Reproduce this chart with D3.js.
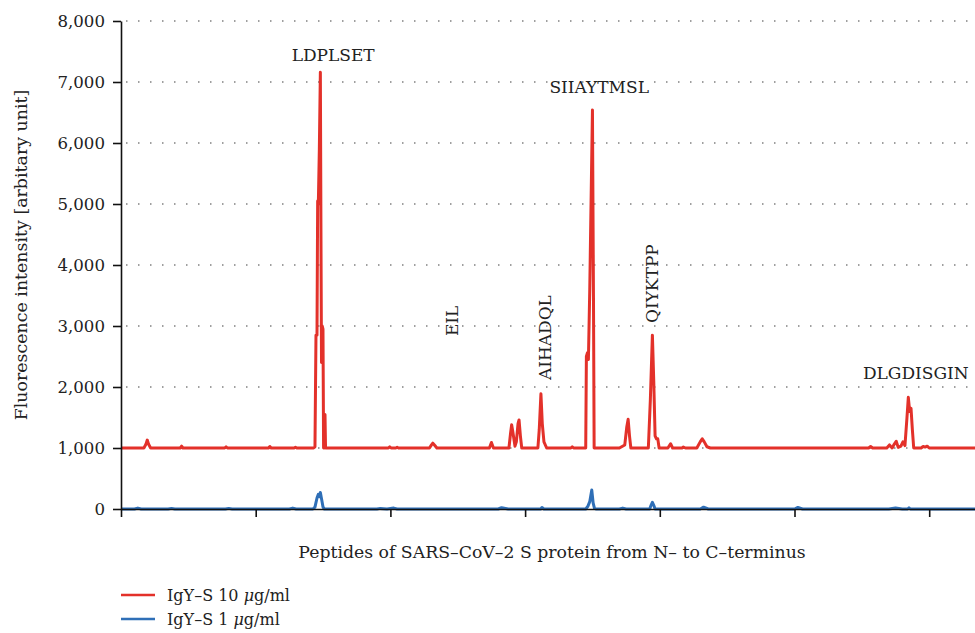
<!DOCTYPE html>
<html>
<head>
<meta charset="utf-8">
<script src="https://cdn.jsdelivr.net/npm/d3@7"></script>
<style>
  body { margin: 0; background: #fff; }
</style>
</head>
<body>
<div id="chart"></div>
<script>
// peptide position along the S protein, intensity
const red10 = [
  [0,1000],[34,1000],[37,1060],[39,1130],[41,1060],[44,1000],
  [88,1000],[90,1030],[92,1000],
  [154,1000],[156,1020],[158,1000],
  [219,1000],[221,1025],[223,1000],
  [257,1000],[259,1012],[261,1000],
  [286,1000],[288,1020],[289.5,2850],[291,2850],[292,5050],[293,5000],[294.5,5900],[296,7160],
  [297,4200],[297.7,2400],[298.8,3000],[299.9,2950],[300.8,1000],[302,1000],[302.9,1550],[303.7,1000],
  [397,1000],[399,1020],[401,1000],[408,1000],[410,1012],[412,1000],
  [458,1000],[461,1050],[463,1080],[466,1040],[469,1000],
  [547,1000],[550,1090],[553,1000],
  [576,1000],[578.5,1250],[580,1380],[582,1250],[585,1030],[587,1100],[589.5,1400],[591,1460],[593,1200],[595,1000],
  [619,1000],[621,1300],[623.5,1890],[625.5,1400],[628,1100],[632,1000],
  [668,1000],[670,1020],[672,1000],
  [690,1000],[691,2500],[692.5,2560],[694,2450],[696,3600],[700,6540],[701.5,3500],[702.5,1000],
  [740,1000],[748,1050],[751,1350],[753,1470],[755,1200],[757,1000],
  [783,1000],[786,1800],[789,2850],[791,2100],[793,1200],[795,1150],[797,1150],[799,1000],
  [812,1000],[816,1070],[819,1000],
  [833,1000],[835,1015],[838,1000],
  [855,1000],[860,1100],[863,1150],[866,1100],[870,1020],[875,1000],
  [1110,1000],[1113,1025],[1116,1000],
  [1137,1000],[1141,1050],[1145,1000],[1148,1060],[1151,1110],[1154,1010],[1158,1030],[1161,1100],[1164,1040],
  [1167,1500],[1169,1830],[1171,1600],[1173,1650],[1175,1300],[1177,1000],
  [1188,1000],[1191,1025],[1194,1015],[1197,1030],[1200,1000],
  [1268,1000]
];

const blue1 = [
  [0,0],[20,0],[25,15],[30,0],[70,0],[75,10],[80,0],[155,0],[160,10],[165,0],
  [250,0],[255,15],[260,0],[285,0],[288,30],[291,180],[293,240],[295,200],[296,270],[298,150],[300,30],[302,0],
  [380,0],[385,10],[395,0],[405,15],[410,0],[560,0],[565,20],[575,0],[623,0],[625,25],[628,0],
  [690,0],[693,40],[696,120],[699,310],[701,100],[703,10],[705,0],
  [740,0],[745,15],[750,0],[785,0],[787,60],[789,110],[791,60],[793,0],
  [860,0],[865,30],[872,0],[1000,0],[1005,25],[1012,0],
  [1140,0],[1150,15],[1160,0],[1168,0],[1170,20],[1172,0],[1268,0]
];

const yTicks = [0, 1000, 2000, 3000, 4000, 5000, 6000, 7000, 8000];
const xTicks = [0, 200, 400, 600, 800, 1000, 1200];

// peptide labels: text, anchor position, anchor intensity, rotated?
const peptides = ["LDPLSET", "EIL", "AIHADQL", "SIIAYTMSL", "QIYKTPP", "DLGDISGIN"];
const peptidePos = [315, 500, 638, 710, 797, 1180];
const peptideVal = [7343, 2835, 2114, 6818, 3049, 2131];
const peptideRot = [false, true, true, false, true, false];

const seriesNames = ["IgY\u2013S 10", "IgY\u2013S 1"];
const seriesColors = ["#e3312a", "#2f6fb7"];

const SERIF = "'DejaVu Serif', serif";

const W = 975, H = 633;
const svg = d3.select("#chart").append("svg")
  .attr("width", W)
  .attr("height", H)
  .attr("font-family", SERIF);

const x = d3.scaleLinear().domain([0, 1268]).range([121, 975]);
const y = d3.scaleLinear().domain([0, 8000]).range([509, 21]);

// dotted grid
svg.append("g")
  .selectAll("line")
  .data(yTicks.filter(d => d > 0))
  .join("line")
  .attr("x1", 126)
  .attr("x2", 975)
  .attr("y1", d => y(d))
  .attr("y2", d => y(d))
  .attr("stroke", "#808080")
  .attr("stroke-width", 1.5)
  .attr("stroke-dasharray", "1.5,10.5");

const line = d3.line()
  .x(d => x(d[0]))
  .y(d => y(d[1]));

svg.append("path")
  .datum(blue1)
  .attr("fill", "none")
  .attr("stroke", seriesColors[1])
  .attr("stroke-width", 3)
  .attr("stroke-linejoin", "round")
  .attr("d", line);

svg.append("path")
  .datum(red10)
  .attr("fill", "none")
  .attr("stroke", seriesColors[0])
  .attr("stroke-width", 3)
  .attr("stroke-linejoin", "round")
  .attr("d", line);

// axes
const yAxis = svg.append("g")
  .attr("transform", `translate(${x(0)},0)`)
  .call(d3.axisLeft(y).tickValues(yTicks).tickSize(8).tickPadding(8).tickSizeOuter(0)
    .tickFormat(d3.format(",")));

const xAxis = svg.append("g")
  .attr("transform", `translate(0,${y(0)})`)
  .call(d3.axisBottom(x).tickValues(xTicks).tickSize(8).tickSizeOuter(0).tickFormat(""));

[yAxis, xAxis].forEach(a => {
  a.attr("font-family", SERIF).attr("font-size", 16.6);
  a.selectAll("path, line").attr("stroke", "#111").attr("stroke-width", 1.6);
  a.selectAll("text").attr("fill", "#222");
});

// peptide labels
peptides.forEach((p, i) => {
  const t = svg.append("text")
    .attr("font-size", 17)
    .attr("fill", "#222")
    .text(p);
  if (peptideRot[i]) {
    t.attr("transform", `translate(${x(peptidePos[i])},${y(peptideVal[i])}) rotate(-90)`)
      .attr("text-anchor", "start");
  } else {
    t.attr("x", x(peptidePos[i])).attr("y", y(peptideVal[i]))
      .attr("text-anchor", "middle");
  }
});

// axis titles
svg.append("text")
  .attr("transform", `translate(27,255) rotate(-90)`)
  .attr("text-anchor", "middle")
  .attr("font-size", 17.4)
  .attr("fill", "#222")
  .text("Fluorescence intensity [arbitary unit]");

svg.append("text")
  .attr("x", 552)
  .attr("y", 558)
  .attr("text-anchor", "middle")
  .attr("font-size", 17.3)
  .attr("fill", "#222")
  .text("Peptides of SARS\u2013CoV\u20132 S protein from N\u2013 to C\u2013terminus");

// legend
const legend = svg.append("g");
seriesNames.forEach((name, i) => {
  const ly = 595 + i * 24;
  legend.append("line")
    .attr("x1", 121).attr("x2", 155)
    .attr("y1", ly).attr("y2", ly)
    .attr("stroke", seriesColors[i])
    .attr("stroke-width", 2.5);
  const t = legend.append("text")
    .attr("x", 167).attr("y", ly + 6)
    .attr("font-size", 16)
    .attr("fill", "#222");
  t.append("tspan").text(name + " ");
  t.append("tspan").attr("font-style", "italic").text("\u03bc");
  t.append("tspan").text("g/ml");
});
</script>
</body>
</html>
